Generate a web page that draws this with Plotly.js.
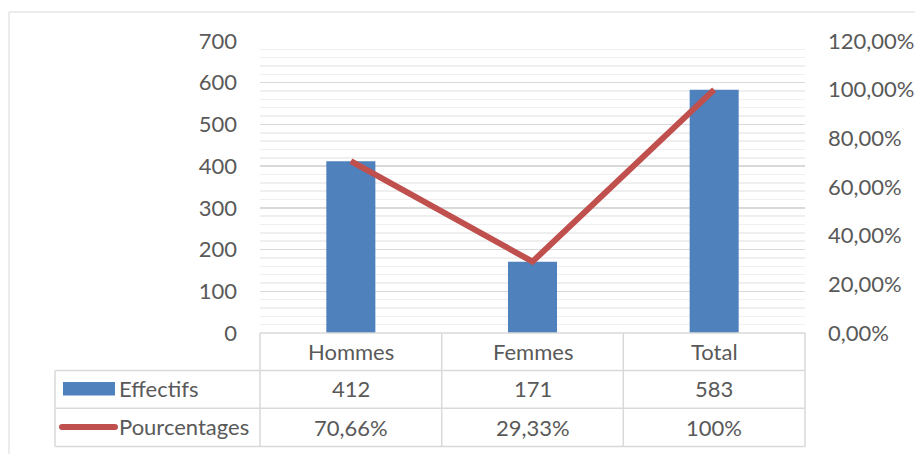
<!DOCTYPE html>
<html>
<head>
<meta charset="utf-8">
<script src="https://cdn.plot.ly/plotly-3.0.1.min.js"></script>
<style>html,body{margin:0;padding:0;background:#fff;}#chart{width:915px;height:454px;}</style>
</head>
<body>
<div id="chart"></div>
<script>
// ---- data ----
const categories = ['Hommes', 'Femmes', 'Total'];
const effectifs = [412, 171, 583];
const pourcentages = [0.7066, 0.2933, 1.0];
const pctLabels = ['70,66%', '29,33%', '100%'];
const seriesNames = ['Effectifs', 'Pourcentages'];

// ---- layout helpers (pixel -> paper) ----
const W = 915, H = 454;
const L = 260, R = 805, T = 41, B = 333;
const px = x => (x - L) / (R - L);
const py = y => (B - y) / (B - T);

const FONT = 'Lato, "Open Sans", sans-serif';
const TXT = '#595959';
const GRID = '#d9d9d9';
const FS = 22;

const traces = [
  {
    type: 'bar', x: categories, y: effectifs, name: seriesNames[0],
    marker: {color: '#4F81BD'}, yaxis: 'y', hoverinfo: 'skip'
  },
  {
    type: 'scatter', mode: 'lines', x: categories, y: pourcentages, name: seriesNames[1],
    line: {color: '#C0504D', width: 6}, yaxis: 'y2', hoverinfo: 'skip'
  }
];

const shapes = [];
const annotations = [];
const line = (x0, y0, x1, y1, color, width) => shapes.push({
  type: 'line', xref: 'paper', yref: 'paper', x0: px(x0), y0: py(y0), x1: px(x1), y1: py(y1),
  line: {color: color, width: width}, layer: 'above'
});

// outer chart border
shapes.push({type: 'rect', xref: 'paper', yref: 'paper', x0: px(9), y0: py(12), x1: px(930), y1: py(470),
  line: {color: GRID, width: 1}, fillcolor: 'rgba(0,0,0,0)', layer: 'below'});

// data table grid
const rowY = [333, 370.5, 408.3, 446.5];
line(L, rowY[0], R, rowY[0], GRID, 1.5);
for (let i = 1; i < rowY.length; i++) line(55, rowY[i], R, rowY[i], GRID, 1.5);
line(55, rowY[1], 55, rowY[3], GRID, 1.5);
const colX = [L, 441.7, 623.3, R];
colX.forEach(x => line(x, rowY[0], x, rowY[3], GRID, 1.5));

// legend keys
shapes.push({type: 'rect', xref: 'paper', yref: 'paper', x0: px(63), x1: px(115), y0: py(382), y1: py(395.5),
  fillcolor: '#4F81BD', line: {width: 0}, layer: 'above'});
line(62, 427, 115, 427, '#C0504D', 6);
[62, 115].forEach(cx => shapes.push({type: 'circle', xref: 'paper', yref: 'paper',
  x0: px(cx - 3), x1: px(cx + 3), y0: py(427 - 3), y1: py(427 + 3),
  fillcolor: '#C0504D', line: {width: 0}, layer: 'above'}));

const ann = (x, xref, y, text, xanchor) => annotations.push({
  x: x, xref: xref, y: py(y), yref: 'paper', text: text, showarrow: false,
  xanchor: xanchor || 'center', yanchor: 'middle', font: {family: FONT, size: FS, color: TXT}
});

// header, values
categories.forEach((c, i) => {
  ann(c, 'x', 351.5, c);
  ann(c, 'x', 389, String(effectifs[i]));
  ann(c, 'x', 427, pctLabels[i]);
});
ann(px(117), 'paper', 388.5, seriesNames[0], 'left');
ann(px(117), 'paper', 426.5, seriesNames[1], 'left');

const layout = {
  width: W, height: H,
  margin: {l: L, r: W - R, t: T, b: H - B, pad: 0},
  paper_bgcolor: '#fff', plot_bgcolor: '#fff',
  separators: ', ',
  showlegend: false,
  bargap: 0.73,
  font: {family: FONT, size: FS, color: TXT},
  xaxis: {showticklabels: false, showgrid: false, zeroline: false, showline: false, ticks: ''},
  yaxis: {
    range: [0, 700], dtick: 100, tick0: 0, showgrid: true, gridcolor: GRID, gridwidth: 1.5,
    zeroline: false, showline: false, ticks: '', ticklabelstandoff: 22,
    tickfont: {family: FONT, size: FS, color: TXT},
    minor: {dtick: 20, showgrid: true, gridcolor: '#efefef', gridwidth: 1.5}
  },
  yaxis2: {
    range: [0, 1.2], dtick: 0.2, tick0: 0, overlaying: 'y', side: 'right', tickformat: '.2%',
    showgrid: false, zeroline: false, showline: false, ticks: '', ticklabelstandoff: 22,
    tickfont: {family: FONT, size: FS, color: TXT}
  },
  shapes: shapes,
  annotations: annotations
};

Plotly.newPlot('chart', traces, layout, {staticPlot: true, displayModeBar: false});
</script>
</body>
</html>
